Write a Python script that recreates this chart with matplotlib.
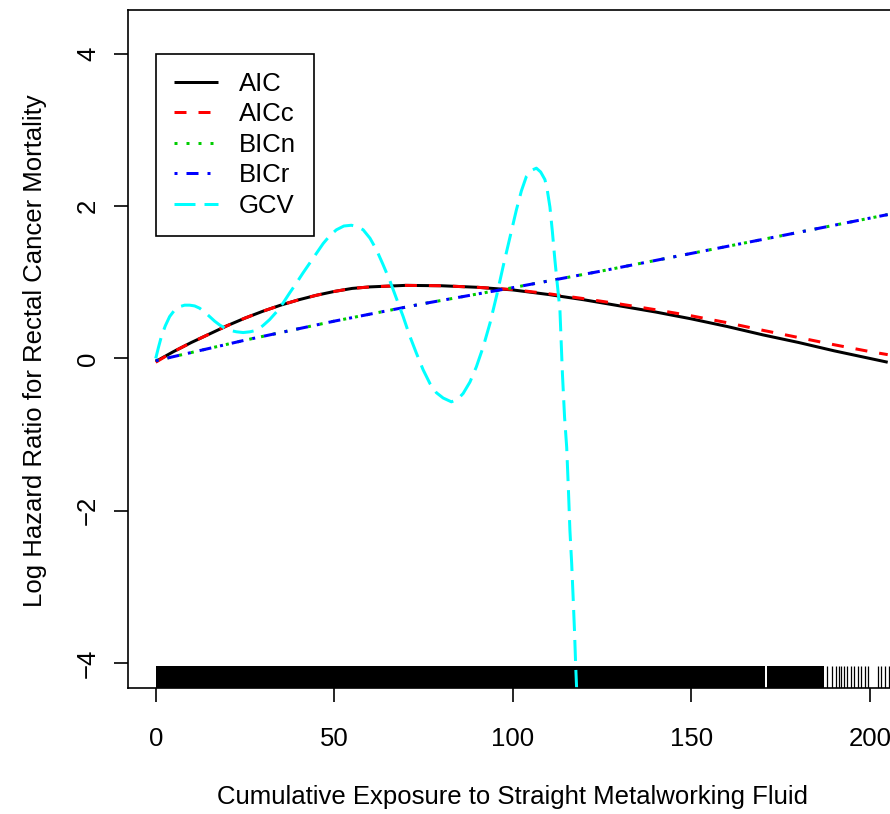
import matplotlib
matplotlib.use("Agg")
import matplotlib.pyplot as plt

plt.rcParams['font.family'] = ['Liberation Sans', 'DejaVu Sans']

# Fitted log hazard ratio curves (penalized splines chosen by different criteria)
aic_x = [0, 5, 10, 15, 20, 25, 30, 35, 40, 45, 50, 55, 60, 70, 80, 90, 100, 110,
         120, 130, 140, 150, 160, 170, 180, 190, 200, 205]
aic_y = [-0.04, 0.09, 0.21, 0.32, 0.43, 0.53, 0.62, 0.70, 0.77, 0.83, 0.88, 0.92,
         0.94, 0.96, 0.955, 0.935, 0.90, 0.84, 0.77, 0.69, 0.61, 0.52, 0.42, 0.31,
         0.21, 0.10, 0.00, -0.05]

aicc_x = [0, 5, 10, 15, 20, 25, 30, 35, 40, 45, 50, 55, 60, 70, 80, 90, 100, 110,
          120, 130, 140, 150, 160, 170, 180, 190, 200, 205]
aicc_y = [-0.05, 0.09, 0.21, 0.32, 0.43, 0.53, 0.62, 0.70, 0.77, 0.83, 0.88, 0.92,
          0.94, 0.96, 0.955, 0.935, 0.905, 0.85, 0.785, 0.715, 0.64, 0.56, 0.47,
          0.37, 0.275, 0.18, 0.09, 0.05]

bicn_x = [0, 25, 50, 75, 100, 125, 150, 175, 205]
bicn_y = [-0.03, 0.24, 0.49, 0.72, 0.93, 1.15, 1.38, 1.61, 1.89]

bicr_x = [0, 25, 50, 75, 100, 125, 150, 175, 205]
bicr_y = [-0.03, 0.24, 0.49, 0.72, 0.93, 1.15, 1.38, 1.61, 1.89]

gcv_x = [0, 0.8, 1.6, 2.7, 3.9, 5.2, 6.7, 8.1, 9.5, 10.9, 12.3, 13.7, 15.1, 16.5,
         17.9, 19.3, 20.7, 22.6, 24.5, 26.4, 28.2, 30.0, 31.9, 33.8, 35.7, 37.5,
         39.4, 41.2, 43.1, 45.0, 46.9, 48.7, 50.6, 52.7, 54.8, 56.5, 58.1, 60.0,
         61.8, 63.6, 65.5, 67.4, 69.3, 71.1, 73.0, 74.9, 76.8, 78.6, 80.5, 82.8,
         84.5, 86.1, 88.0, 89.8, 91.7, 93.6, 95.5, 97.3, 99.2, 101.0, 102.4, 103.8,
         105.2, 106.6, 107.8, 109.0, 109.7, 110.4, 111.1, 111.8, 112.5, 113.2, 113.9,
         114.5, 115.1, 115.6, 116.0, 116.5, 116.9, 117.3, 117.6, 118.2]
gcv_y = [0.0, 0.15, 0.29, 0.43, 0.55, 0.63, 0.68, 0.70, 0.70, 0.69, 0.66, 0.61,
         0.55, 0.49, 0.44, 0.40, 0.37, 0.35, 0.34, 0.35, 0.37, 0.43, 0.51, 0.61,
         0.73, 0.86, 0.99, 1.12, 1.25, 1.38, 1.51, 1.61, 1.69, 1.74, 1.75, 1.73,
         1.69, 1.58, 1.43, 1.24, 1.03, 0.79, 0.55, 0.30, 0.07, -0.15, -0.33, -0.45,
         -0.52, -0.57, -0.54, -0.46, -0.31, -0.11, 0.15, 0.46, 0.83, 1.21, 1.59,
         1.95, 2.20, 2.39, 2.47, 2.50, 2.45, 2.35, 2.20, 1.99, 1.66, 1.29, 0.96,
         0.64, -0.20, -0.77, -1.17, -1.75, -2.26, -2.70, -3.14, -3.60, -4.02, -4.70]

# Observed exposures (rug): densely covered ranges plus isolated high values
rug_dense = [(0.0, 170.6), (171.2, 187.2)]
rug_sparse = [187.9, 189.4, 190.4, 191.3, 192.0, 192.8, 193.7, 194.6, 195.6,
              196.6, 197.4, 198.7, 199.6, 202.3, 203.2, 204.2, 205.3]

series_labels = ['AIC', 'AICc', 'BICn', 'BICr', 'GCV']
series_colors = ['black', '#FF0000', '#00CD00', '#0000FF', '#00FFFF']

x_ticks = [0, 50, 100, 150, 200]
y_ticks = [-4, -2, 0, 2, 4]

W, H = 890, 814
fig = plt.figure(figsize=(W / 100, H / 100), dpi=100)
left_px, right_px, top_px, bottom_px = 128, 897, 10, 688
ax = fig.add_axes([left_px / W, 1 - bottom_px / H,
                   (right_px - left_px) / W, (bottom_px - top_px) / H])

lw = 2.16
fs = 18.5
styles = ['-', (0, (4, 4)), (0, (1, 3)), (0, (1, 3, 4, 3)), (0, (7, 3))]
data = [(aic_x, aic_y), (aicc_x, aicc_y), (bicn_x, bicn_y),
        (bicr_x, bicr_y), (gcv_x, gcv_y)]
handles = []
for (xs, ys), lab, col, ls in zip(data, series_labels, series_colors, styles):
    h, = ax.plot(xs, ys, color=col, linestyle=ls, linewidth=lw, label=lab,
                 dash_capstyle='butt', solid_capstyle='butt',
                 solid_joinstyle='round', dash_joinstyle='round')
    handles.append(h)

# rug along the bottom axis
trans = ax.get_xaxis_transform()
rug_h = 22 / (bottom_px - top_px)
for a, b in rug_dense:
    ax.fill_between([a, b], [0, 0], [rug_h, rug_h], transform=trans,
                    color='black', linewidth=0)
ax.vlines(rug_sparse, 0, rug_h, transform=trans, color='black', linewidth=0.9)

ax.set_xlim(-7.76, 207.6)
ax.set_ylim(-4.33, 4.578)
ax.spines['right'].set_visible(False)
for s in ['left', 'top', 'bottom']:
    ax.spines[s].set_linewidth(1.2)

ax.set_xticks(x_ticks)
ax.set_yticks(y_ticks)
ax.tick_params(axis='both', length=10, width=1.2, labelsize=fs, direction='out')
ax.tick_params(axis='x', pad=18)
ax.tick_params(axis='y', pad=10, labelrotation=90)
for t in ax.get_yticklabels():
    t.set_verticalalignment('center')

ax.set_xlabel('Cumulative Exposure to Straight Metalworking Fluid', fontsize=fs)
ax.set_ylabel('Log Hazard Ratio for Rectal Cancer Mortality', fontsize=fs)
ax.xaxis.set_label_coords((512.5 - left_px) / (right_px - left_px),
                          -(785 - bottom_px) / (bottom_px - top_px))
ax.xaxis.label.set_verticalalignment('top')
ax.yaxis.set_label_coords(-(left_px - 47) / (right_px - left_px), 0.497)

leg = ax.legend(handles=handles, loc='upper left', bbox_to_anchor=(0, 4),
                bbox_transform=ax.transData, borderaxespad=0, fontsize=fs,
                frameon=True, fancybox=False, framealpha=1, edgecolor='black',
                handlelength=1.72, handletextpad=0.82, labelspacing=0.25,
                borderpad=0.7)
leg.get_frame().set_linewidth(1.2)

fig.savefig('out.png', dpi=100)
